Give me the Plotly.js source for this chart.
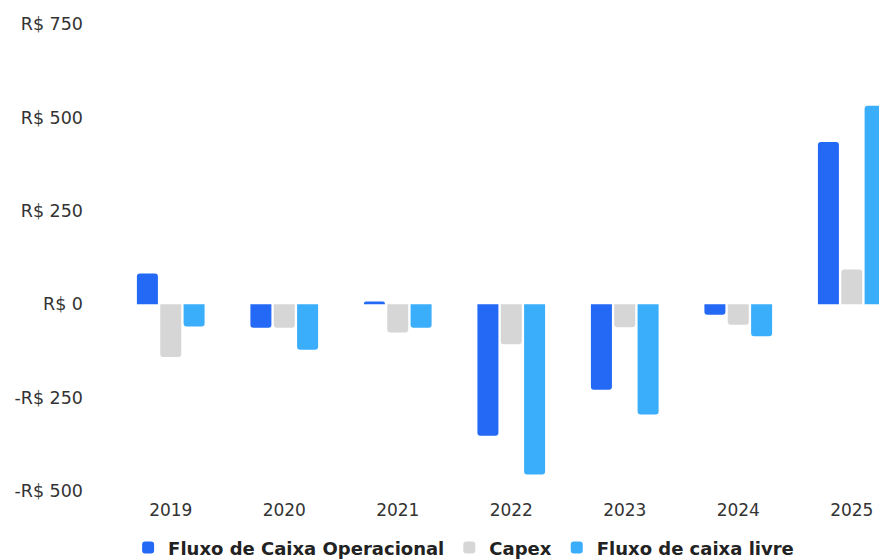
<!DOCTYPE html>
<html>
<head>
<meta charset="utf-8">
<script src="https://cdn.plot.ly/plotly-3.0.1.min.js"></script>
<style>html,body{margin:0;padding:0;background:#fff;overflow:hidden}</style>
</head>
<body>
<div id="chart" style="width:879px;height:559px"></div>
<script>
const years = ["2019","2020","2021","2022","2023","2024","2025"];
const fluxoOperacional = [82, -63, 7, -352, -229, -28, 434];
const capex = [-141, -63, -76, -107, -62, -55, 93];
const fluxoLivre = [-60, -122, -63, -456, -295, -86, 531];
const seriesNames = ["Fluxo de Caixa Operacional", "Capex", "Fluxo de caixa livre"];
const tickVals = [-500, -250, 0, 250, 500, 750];
const tickText = ["-R$ 500", "-R$ 250", "R$ 0", "R$ 250", "R$ 500", "R$ 750"];

const colors = ["#2369F6", "#D6D6D6", "#3BAEFB"];
const font = "DejaVu Sans, sans-serif";
const data = [fluxoOperacional, capex, fluxoLivre].map((v, i) => ({
  type: "bar", x: years, y: v, name: seriesNames[i],
  marker: {color: colors[i]}, hoverinfo: "skip"
}));

const layout = {
  width: 879, height: 559,
  margin: {l: 114, r: 0, t: 24, b: 68},
  paper_bgcolor: "#fff", plot_bgcolor: "#fff",
  barmode: "group", bargap: 0.383, bargroupgap: 0.1, barcornerradius: 3,
  font: {family: font, size: 17, color: "#333"},
  xaxis: {type: "category", range: [-0.5, 6.24], showgrid: false, zeroline: false,
          showline: false, ticks: "", ticklabelstandoff: 7, automargin: false,
          tickfont: {size: 17, color: "#333"}},
  yaxis: {range: [-500, 750], tickvals: tickVals, ticktext: tickText,
          showgrid: false, zeroline: false, showline: false, ticks: "", automargin: false,
          ticklabelstandoff: 30, tickfont: {size: 17.5, color: "#333"}},
  showlegend: true,
  legend: {orientation: "h", x: 0.457, xanchor: "center", yref: "container",
           y: 0.02, yanchor: "middle",
           font: {family: font, size: 18, color: "#222", weight: "bold"},
           itemwidth: 30, traceorder: "normal"}
};
Plotly.newPlot("chart", data, layout, {displayModeBar: false, staticPlot: true});
</script>
</body>
</html>
